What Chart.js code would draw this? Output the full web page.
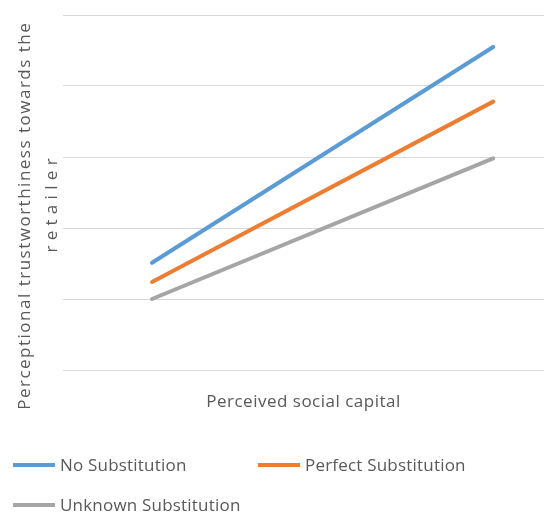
<!DOCTYPE html>
<html>
<head>
<meta charset="utf-8">
<script src="https://cdn.jsdelivr.net/npm/chart.js@4.4.0/dist/chart.umd.min.js"></script>
<style>
  html, body { margin: 0; padding: 0; background: #ffffff; }
  #wrap { width: 544px; height: 513px; position: relative; }
</style>
</head>
<body>
<div id="wrap"><canvas id="c"></canvas></div>
<script>
// Low / high level of perceived social capital
const levels = [1, 2];
const seriesNames = ['No Substitution', 'Perfect Substitution', 'Unknown Substitution'];
const noSubstitution = [1.51, 4.55];
const perfectSubstitution = [1.24, 3.78];
const unknownSubstitution = [1.0, 2.98];
const seriesColors = ['#5b9bd5', '#ed7d31', '#a5a5a5'];
const xTitle = 'Perceived social capital';
const yTitleLines = ['Perceptional trustworthiness towards the', 'retailer'];

const textColor = '#595959';
const fontFamily = '"Open Sans", "Noto Sans", sans-serif';

const allSeries = [noSubstitution, perfectSubstitution, unknownSubstitution];
const datasets = allSeries.map((vals, i) => ({
  label: seriesNames[i],
  data: vals.map((v, j) => ({ x: levels[j], y: v })),
  borderColor: seriesColors[i],
  backgroundColor: seriesColors[i],
  borderWidth: 4,
  borderCapStyle: 'round',
  pointRadius: 0,
  tension: 0
}));

// Slightly open letter spacing for the axis texts
const textSpacing = {
  id: 'textSpacing',
  beforeDraw(chart) { chart.ctx.letterSpacing = '0.5px'; },
  afterDraw(chart) { chart.ctx.letterSpacing = '0px'; }
};

// Rotated two-line title on the left of the plot
const sideTitle = {
  id: 'sideTitle',
  afterDraw(chart) {
    const ctx = chart.ctx;
    const area = chart.chartArea;
    const specs = [
      { x: 30, shift: 24, spacing: 1.5 },
      { x: 57, shift: 13, spacing: 5.3 }
    ];
    ctx.save();
    ctx.font = '17px ' + fontFamily;
    ctx.fillStyle = textColor;
    ctx.textBaseline = 'alphabetic';
    ctx.textAlign = 'left';
    yTitleLines.forEach((line, i) => {
      const s = specs[i];
      ctx.letterSpacing = s.spacing + 'px';
      const w = ctx.measureText(line).width - s.spacing;
      const cy = (area.top + area.bottom) / 2 + s.shift;
      ctx.save();
      ctx.translate(s.x, cy);
      ctx.rotate(-Math.PI / 2);
      ctx.fillText(line, -w / 2, 0);
      ctx.restore();
    });
    ctx.restore();
  }
};

// Legend laid out in two fixed-width columns below the plot
const columnLegend = {
  id: 'columnLegend',
  afterDraw(chart) {
    const ctx = chart.ctx;
    ctx.save();
    ctx.font = '17px ' + fontFamily;
    ctx.letterSpacing = '0.2px';
    ctx.fillStyle = textColor;
    ctx.textBaseline = 'middle';
    ctx.textAlign = 'left';
    chart.data.datasets.forEach((ds, i) => {
      const col = i % 2, row = Math.floor(i / 2);
      const x = 13 + col * 245;
      const y = 465 + row * 40;
      ctx.strokeStyle = ds.borderColor;
      ctx.lineWidth = 4;
      ctx.lineCap = 'butt';
      ctx.beginPath();
      ctx.moveTo(x, y);
      ctx.lineTo(x + 42, y);
      ctx.stroke();
      ctx.fillText(ds.label, x + 47, y + 1);
    });
    ctx.restore();
  }
};

new Chart(document.getElementById('c'), {
  type: 'line',
  data: { datasets },
  options: {
    responsive: true,
    maintainAspectRatio: false,
    animation: false,
    layout: { padding: { left: 63, right: 0, top: 15, bottom: 100.6 } },
    plugins: {
      legend: { display: false },
      tooltip: { enabled: false }
    },
    scales: {
      x: {
        type: 'linear',
        min: 0.739,
        max: 2.149,
        grid: { display: false, drawTicks: false },
        border: { display: false },
        ticks: { display: false },
        title: {
          display: true,
          text: xTitle,
          color: textColor,
          font: { family: fontFamily, size: 17, lineHeight: 1.2 },
          padding: { top: 22, bottom: 0 }
        }
      },
      y: {
        min: 0,
        max: 5,
        grid: { color: '#d9d9d9', lineWidth: 1, drawTicks: false },
        border: { display: false },
        ticks: { display: false, stepSize: 1 },
        title: { display: false }
      }
    }
  },
  plugins: [textSpacing, sideTitle, columnLegend]
});
</script>
</body>
</html>
